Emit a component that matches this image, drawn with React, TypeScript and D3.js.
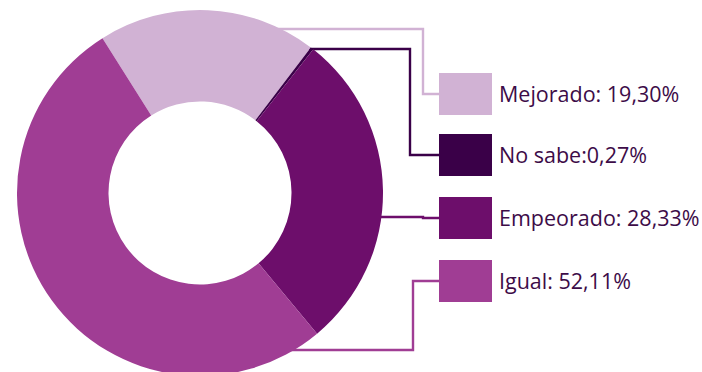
import React from "react";
import * as d3 from "d3";

const categories = ["Mejorado", "No sabe", "Empeorado", "Igual"];
const values = [19.3, 0.27, 28.33, 52.11];
const labels = ["Mejorado: 19,30%", "No sabe:0,27%", "Empeorado: 28,33%", "Igual: 52,11%"];
const colors = ["#D1B2D4", "#3A0048", "#6D0E6B", "#A03D94"];

const W = 702, H = 372;
const cx = 200, cy = 193, R = 183, r = 91.5;
const startDeg = -32.2;
// leader line layout: y at donut, x of elbow, legend box top
const leaderY = [29, 49, 217, 350];
const elbowX = [423, 410, 423, 413];
const boxTop = [73, 134, 197, 260];
const boxX = 439, boxW = 53, boxH = 42;

export default function App() {
  const pie = d3.pie<number>().sort(null).value((d) => d)
    .startAngle((startDeg * Math.PI) / 180)
    .endAngle((startDeg * Math.PI) / 180 + 2 * Math.PI);
  const arcs = pie(values);
  const arc = d3.arc<d3.PieArcDatum<number>>().innerRadius(r).outerRadius(R);
  const line = d3.line();

  return (
    <svg width={W} height={H} style={{ position: "absolute", left: 0, top: 0 }}>
      <rect width={W} height={H} fill="#fff" />
      {categories.map((c, i) => {
        const y = leaderY[i];
        const dy = y - cy;
        const x0 = cx + Math.sqrt(Math.max(0, R * R - dy * dy)) - 4;
        const by = boxTop[i] + boxH / 2;
        const pts: [number, number][] = [
          [x0, y], [elbowX[i], y], [elbowX[i], by], [boxX, by],
        ];
        return <path key={"l" + c} d={line(pts) || ""} fill="none" stroke={colors[i]} strokeWidth={2.4} />;
      })}
      <g transform={`translate(${cx},${cy})`}>
        {arcs.map((a, i) => (
          <path key={categories[i]} d={arc(a) || ""} fill={colors[i]} />
        ))}
      </g>
      {categories.map((c, i) => (
        <g key={"g" + c}>
          <rect x={boxX} y={boxTop[i]} width={boxW} height={boxH} fill={colors[i]} />
          <text x={499} y={boxTop[i] + boxH / 2 + 7.5} fontFamily="'Open Sans', sans-serif" fontSize={21.5} fill="#3D0C48">
            {labels[i]}
          </text>
        </g>
      ))}
    </svg>
  );
}
